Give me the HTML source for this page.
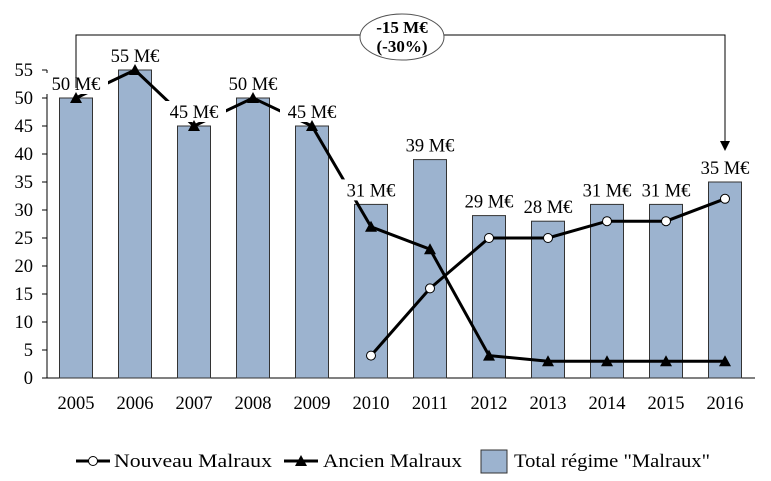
<!DOCTYPE html>
<html><head><meta charset="utf-8"><style>
body{margin:0;background:#fff}
svg text{font-family:"Liberation Serif",serif;fill:#000}
</style></head><body>
<svg id="c" width="771" height="476"></svg>
<script>
const years=['2005','2006','2007','2008','2009','2010','2011','2012','2013','2014','2015','2016'];
const totals=[50,55,45,50,45,31,39,29,28,31,31,35];
const ancien=[50,55,45,50,45,27,23,4,3,3,3,3];
const nouveau=[null,null,null,null,null,4,16,25,25,28,28,32];
const yTicks=[0,5,10,15,20,25,30,35,40,45,50,55];
const NS='http://www.w3.org/2000/svg';
const svg=document.getElementById('c');
const X=i=>76+i*59, Y=v=>378-v*5.6;
function el(t,a,p){const e=document.createElementNS(NS,t);for(const k in a)e.setAttribute(k,a[k]);(p||svg).appendChild(e);return e;}
let ax=el('line',{x1:47,y1:Y(0),x2:47,y2:Y(55),stroke:'#000'});


let bx=el('line',{x1:47,y1:Y(0),x2:755,y2:Y(0),stroke:'#000'});


yTicks.forEach(v=>{
 el('line',{x1:42,y1:Y(v),x2:47,y2:Y(v),stroke:'#000'});
 const t=el('text',{x:33,y:Y(v)+6,'text-anchor':'end','font-size':18.5});t.textContent=v;
 
 
});
years.forEach((y,i)=>{
 const r=el('rect',{x:X(i)-16.5,y:Y(totals[i]),width:33,height:totals[i]*5.6,fill:'#9cb3cf',stroke:'#333','stroke-width':1});
 
 
 const t=el('text',{x:X(i),y:409,'text-anchor':'middle','font-size':18.5});t.textContent=y;
 
 
});
let pa=ancien.map((v,i)=>X(i)+','+Y(v)).join(' ');
let la=el('polyline',{points:pa,fill:'none',stroke:'#000','stroke-width':3});


let pn=nouveau.map((v,i)=>v==null?null:X(i)+','+Y(v)).filter(Boolean).join(' ');
let ln=el('polyline',{points:pn,fill:'none',stroke:'#000','stroke-width':3});


totals.forEach((v,i)=>{
 const g=el('g',{});
 
 
 el('rect',{x:X(i)-32,y:Y(v)-25,width:64,height:21,fill:'#fff'},g);
 const t=el('text',{x:X(i),y:Y(v)-8,'text-anchor':'middle','font-size':18.5},g);t.textContent=v+' M€';
});
ancien.forEach((v,i)=>{
 const m=el('polygon',{points:`${X(i)-6},${Y(v)+5} ${X(i)+6},${Y(v)+5} ${X(i)},${Y(v)-6}`,fill:'#000'});
 
 
});
nouveau.forEach((v,i)=>{ if(v==null)return;
 const m=el('circle',{cx:X(i),cy:Y(v),r:4.5,fill:'#fff',stroke:'#000','stroke-width':1});
 
 
});
let br=el('polyline',{points:`${X(0)},88 ${X(0)},35 ${X(11)},35 ${X(11)},143`,fill:'none',stroke:'#000','stroke-width':1});


el('polygon',{points:`${X(11)-5},141 ${X(11)+5},141 ${X(11)},151`,fill:'#000'});
let ell=el('ellipse',{cx:402,cy:37,rx:42,ry:23,fill:'#fff',stroke:'#555'});


let t1=el('text',{x:402,y:33,'text-anchor':'middle','font-size':17,'font-weight':'bold'});t1.textContent='-15 M€';
let t2=el('text',{x:402,y:52,'text-anchor':'middle','font-size':17,'font-weight':'bold'});t2.textContent='(-30%)';
const lg=el('g',{});


el('line',{x1:76,y1:461,x2:110,y2:461,stroke:'#000','stroke-width':3},lg);
el('circle',{cx:93,cy:461,r:4.5,fill:'#fff',stroke:'#000'},lg);
let lt1=el('text',{x:114,y:467,'font-size':18.5,textLength:158,lengthAdjust:'spacingAndGlyphs'},lg);lt1.textContent='Nouveau Malraux';
el('line',{x1:284,y1:461,x2:318,y2:461,stroke:'#000','stroke-width':3},lg);
el('polygon',{points:'295,466 307,466 301,455',fill:'#000'},lg);
let lt2=el('text',{x:323,y:467,'font-size':18.5,textLength:139,lengthAdjust:'spacingAndGlyphs'},lg);lt2.textContent='Ancien Malraux';
el('rect',{x:481,y:450,width:26,height:23,fill:'#9cb3cf',stroke:'#333'},lg);
let lt3=el('text',{x:514,y:467,'font-size':18.5,textLength:196,lengthAdjust:'spacingAndGlyphs'},lg);lt3.textContent='Total régime "Malraux"';
</script>
</body></html>
